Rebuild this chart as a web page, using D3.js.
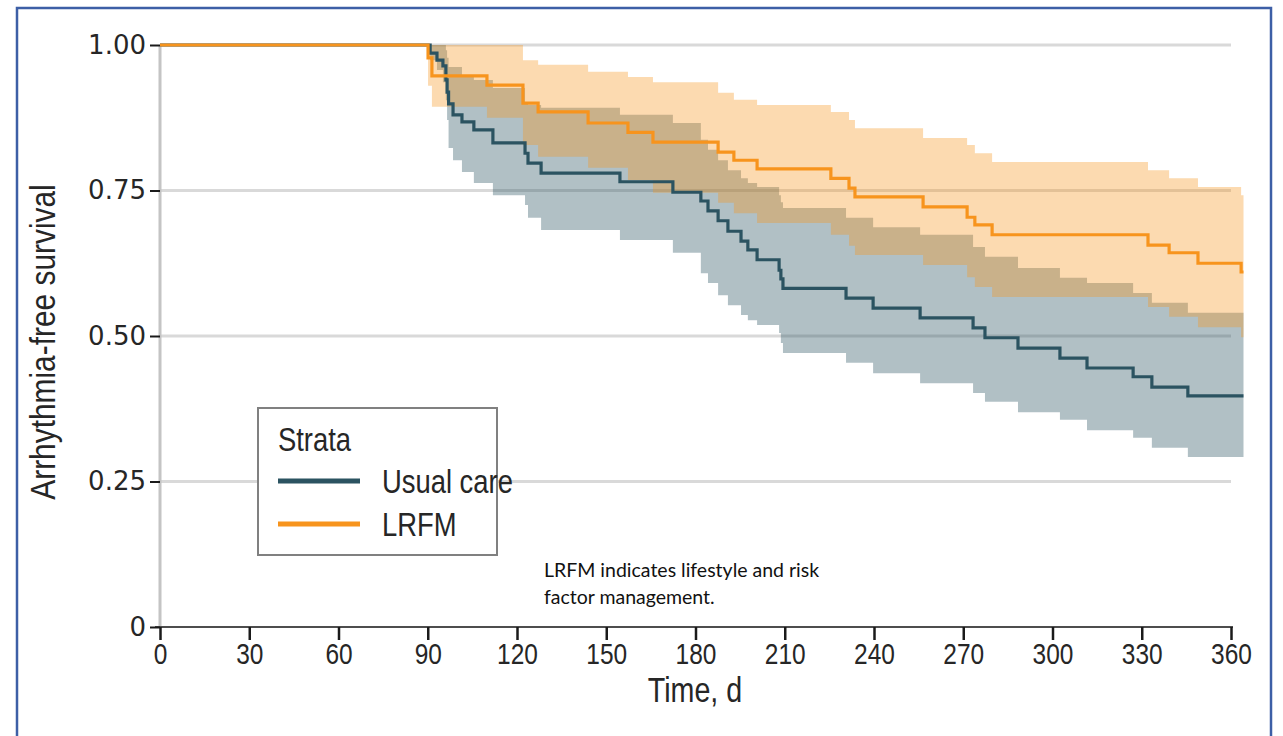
<!DOCTYPE html>
<html>
<head>
<meta charset="utf-8">
<script src="https://cdn.jsdelivr.net/npm/d3@7"></script>
<style>
  html, body { margin: 0; padding: 0; background: #fff; }
  svg { display: block; }
</style>
</head>
<body>
<svg id="chart" width="1283" height="736"></svg>
<script>
// Kaplan-Meier arrhythmia-free survival, two strata, with 95% confidence bands.
const timeTicks = [0, 30, 60, 90, 120, 150, 180, 210, 240, 270, 300, 330, 360];
const survTicks = [0, 0.25, 0.5, 0.75, 1];
const followUpEnd = 364.2;

// Usual care: event times (days), survival estimate, lower and upper confidence limits
const usualTime  = [0, 90.8, 93.1, 95.1, 96.1, 96.5, 97.0, 98.5, 101.5, 105.5, 111.9, 122.7, 123.7, 128.1,
                    154.6, 172.4, 181.8, 184.2, 187.6, 190.9, 195.3, 197.6, 200.7, 208.1, 208.7, 209.4,
                    230.6, 239.7, 255.5, 273.3, 277.3, 288.4, 302.5, 311.6, 327.1, 333.4, 345.5];
const usualSurv  = [1, 0.986, 0.974, 0.964, 0.940, 0.919, 0.899, 0.880, 0.868, 0.854, 0.832, 0.814, 0.797, 0.780,
                    0.765, 0.747, 0.732, 0.715, 0.698, 0.680, 0.663, 0.648, 0.631, 0.613, 0.598, 0.582,
                    0.565, 0.548, 0.531, 0.514, 0.497, 0.479, 0.462, 0.445, 0.430, 0.412, 0.397];
const usualLower = [1, 0.974, 0.957, 0.936, 0.905, 0.871, 0.823, 0.802, 0.782, 0.763, 0.742, 0.725, 0.703, 0.682,
                    0.665, 0.643, 0.608, 0.591, 0.570, 0.553, 0.536, 0.527, 0.519, 0.505, 0.488, 0.471,
                    0.454, 0.436, 0.419, 0.402, 0.387, 0.369, 0.356, 0.338, 0.325, 0.308, 0.292];
const usualUpper = [1, 1, 1, 1, 0.991, 0.978, 0.962, 0.962, 0.948, 0.940, 0.926, 0.902, 0.897, 0.892,
                    0.880, 0.866, 0.837, 0.820, 0.802, 0.785, 0.771, 0.763, 0.756, 0.742, 0.730, 0.720,
                    0.703, 0.687, 0.674, 0.653, 0.636, 0.617, 0.600, 0.591, 0.574, 0.557, 0.540];

// LRFM: event times (days), survival estimate, lower and upper confidence limits
const lrfmTime  = [0, 90.1, 91.4, 109.9, 122.0, 127.1, 143.9, 157.3, 165.7, 187.6, 192.9, 200.7, 225.5,
                   231.6, 233.6, 256.5, 271.3, 273.9, 279.7, 332.1, 339.2, 348.9, 363.4];
const lrfmSurv  = [1, 0.978, 0.947, 0.931, 0.900, 0.885, 0.866, 0.850, 0.833, 0.816, 0.802, 0.787, 0.771,
                   0.754, 0.739, 0.722, 0.704, 0.691, 0.674, 0.656, 0.643, 0.625, 0.610];
const lrfmLower = [1, 0.930, 0.894, 0.875, 0.828, 0.808, 0.789, 0.768, 0.746, 0.729, 0.711, 0.694, 0.674,
                   0.655, 0.639, 0.622, 0.601, 0.584, 0.567, 0.550, 0.533, 0.515, 0.498];
const lrfmUpper = [1, 1, 1, 1, 0.974, 0.966, 0.954, 0.945, 0.936, 0.918, 0.906, 0.897, 0.885,
                   0.871, 0.857, 0.840, 0.828, 0.814, 0.799, 0.785, 0.771, 0.756, 0.742];

const strata = [
  { name: "Usual care", color: "#2b5361", time: usualTime, surv: usualSurv, lower: usualLower, upper: usualUpper, bandOpacity: 0.37 },
  { name: "LRFM",       color: "#f7941d", time: lrfmTime,  surv: lrfmSurv,  lower: lrfmLower,  upper: lrfmUpper,  bandOpacity: 0.35 }
];

const svg = d3.select("#chart");
const x = d3.scaleLinear().domain([0, 360]).range([160, 1231]);
const y = d3.scaleLinear().domain([0, 1]).range([627, 45]);

// narrow-set labels: a regular sans squeezed horizontally
const narrowFont = "'Liberation Sans', Arial, sans-serif";
const squeeze = 0.83;
const textColor = "#262626";

function narrowText(parent, tx, ty, str, size, anchor, rotate) {
  return parent.append("text")
    .attr("transform", `translate(${tx},${ty})${rotate ? ` rotate(${rotate})` : ""} scale(${squeeze},1)`)
    .attr("text-anchor", anchor || "start")
    .attr("fill", textColor)
    .style("font-family", narrowFont).style("font-size", size + "px")
    .text(str);
}

// outer frame
svg.append("rect")
  .attr("x", 17).attr("y", 8).attr("width", 1254).attr("height", 760)
  .attr("fill", "none").attr("stroke", "#3d5fa6").attr("stroke-width", 2.5);

// horizontal reference lines
svg.append("g").selectAll("line")
  .data(survTicks.filter(d => d > 0))
  .join("line")
  .attr("x1", x(0)).attr("x2", x(360))
  .attr("y1", d => y(d)).attr("y2", d => y(d))
  .attr("stroke", "#d9d9d9").attr("stroke-width", 3);

// vertical axis rule
svg.append("line")
  .attr("x1", x(0)).attr("x2", x(0)).attr("y1", y(1)).attr("y2", y(0))
  .attr("stroke", "#c4c4c4").attr("stroke-width", 3);

const rows = s => {
  const r = s.time.map((t, i) => ({ t, s: s.surv[i], lo: s.lower[i], hi: s.upper[i] }));
  const last = r[r.length - 1];
  r.push({ t: followUpEnd, s: last.s, lo: last.lo, hi: last.hi });
  return r;
};

const band = d3.area()
  .x(d => x(d.t)).y0(d => y(d.lo)).y1(d => y(d.hi))
  .curve(d3.curveStepAfter);
const line = d3.line()
  .x(d => x(d.t)).y(d => y(d.s))
  .curve(d3.curveStepAfter);

// confidence bands (usual care underneath, LRFM on top)
strata.forEach(s => {
  svg.append("path")
    .attr("d", band(rows(s)))
    .attr("fill", s.color).attr("fill-opacity", s.bandOpacity);
});

// survival curves
strata.forEach(s => {
  svg.append("path")
    .attr("d", line(rows(s)))
    .attr("fill", "none").attr("stroke", s.color)
    .attr("stroke-width", 3.2).attr("stroke-linejoin", "miter");
});

// x axis
const xAxis = svg.append("g")
  .attr("transform", `translate(0,${y(0)})`)
  .call(d3.axisBottom(x).tickValues(timeTicks).tickSize(13).tickPadding(3).tickSizeOuter(0));
xAxis.select(".domain").attr("stroke", "#4d4d4d").attr("stroke-width", 2)
  .attr("d", `M${x(0) - 5},0H${x(360) + 2}`);
xAxis.selectAll(".tick line").attr("stroke", "#1a1a1a").attr("stroke-width", 2.5);
xAxis.selectAll(".tick text")
  .attr("fill", textColor).attr("transform", `scale(${squeeze},1)`)
  .style("font-family", narrowFont).style("font-size", "29.5px");

// y axis
const yAxis = svg.append("g")
  .attr("transform", `translate(${x(0)},0)`)
  .call(d3.axisLeft(y).tickValues(survTicks).tickSize(10).tickPadding(4)
    .tickFormat(d => d === 0 ? "0" : d3.format(".2f")(d)));
yAxis.select(".domain").remove();
yAxis.selectAll(".tick line").attr("stroke", "#1a1a1a").attr("stroke-width", 2);
yAxis.selectAll(".tick text")
  .attr("fill", textColor).style("font-family", "'DejaVu Sans', Verdana, sans-serif").style("font-size", "26px");

// axis titles
narrowText(svg, 695, 702, "Time, d", 34.5, "middle");
narrowText(svg, 55, 342, "Arrhythmia-free survival", 36, "middle", -90);

// legend
const legend = svg.append("g");
legend.append("rect")
  .attr("x", 258).attr("y", 408).attr("width", 239).attr("height", 147)
  .attr("fill", "#fff").attr("stroke", "#808080").attr("stroke-width", 2);
narrowText(legend, 278, 451, "Strata", 33);
strata.forEach((s, i) => {
  const ly = 481 + i * 43;
  legend.append("line")
    .attr("x1", 278).attr("x2", 360).attr("y1", ly).attr("y2", ly)
    .attr("stroke", s.color).attr("stroke-width", 5);
  narrowText(legend, 382, ly + 12, s.name, 33);
});

// footnote
const note = svg.append("text")
  .attr("x", 544).attr("y", 577)
  .attr("fill", "#111").style("font-family", "Lato, 'Open Sans', sans-serif").style("font-size", "19.5px");
note.append("tspan").attr("x", 544).text("LRFM indicates lifestyle and risk");
note.append("tspan").attr("x", 544).attr("dy", 27).text("factor management.");
</script>
</body>
</html>
